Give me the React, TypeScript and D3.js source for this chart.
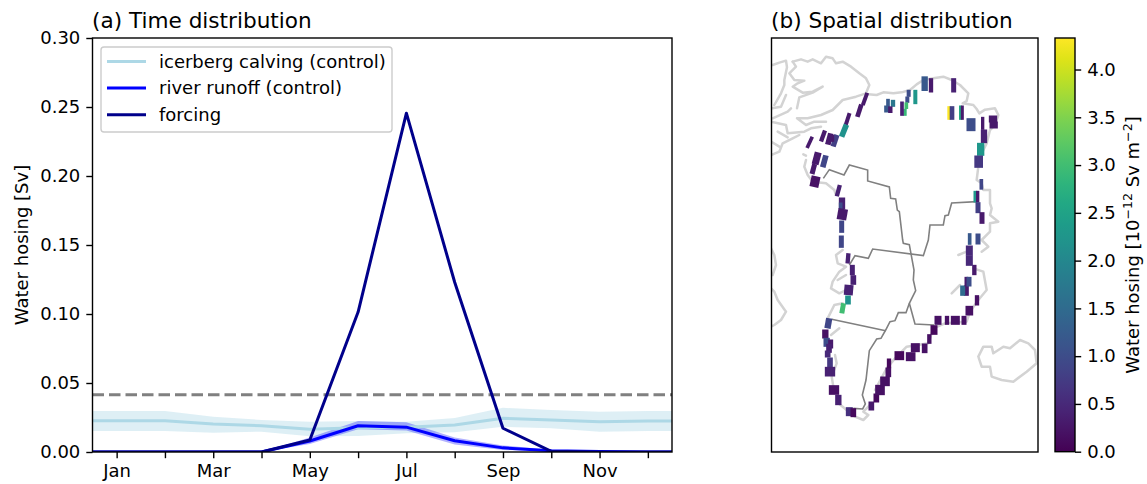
import React, { useEffect, useRef } from 'react';
import * as d3 from 'd3';

const months = ['Jan', 'Feb', 'Mar', 'Apr', 'May', 'Jun', 'Jul', 'Aug', 'Sep', 'Oct', 'Nov', 'Dec'];
const shownMonths = ['Jan', 'Mar', 'May', 'Jul', 'Sep', 'Nov'];
const yTicks = [0, 0.05, 0.1, 0.15, 0.2, 0.25, 0.3];
const cbarTicks = [0, 0.5, 1, 1.5, 2, 2.5, 3, 3.5, 4];

const calving = [0.0227, 0.0227, 0.0203, 0.019, 0.0164, 0.0175, 0.018, 0.0195, 0.0244, 0.0232, 0.022, 0.0225];
const calvingLow = [0.0152, 0.0152, 0.014, 0.0147, 0.0115, 0.0116, 0.0136, 0.0143, 0.0183, 0.0172, 0.0147, 0.0152];
const calvingHigh = [0.0297, 0.0297, 0.0256, 0.0232, 0.022, 0.0225, 0.022, 0.0246, 0.032, 0.0304, 0.0292, 0.0297];
const runoff = [0, 0, 0, 0, 0.008, 0.019, 0.018, 0.0082, 0.003, 0.0009, 0.0003, 0];
const runoffLow = [0, 0, 0, 0, 0.0058, 0.0165, 0.0155, 0.0055, 0.0015, 0.0004, 0.0001, 0];
const runoffHigh = [0, 0, 0, 0, 0.0105, 0.0225, 0.0215, 0.0105, 0.0048, 0.0014, 0.0005, 0];
const forcing = [0, 0, 0, 0, 0.0087, 0.1014, 0.2455, 0.123, 0.0172, 0.0005, 0, 0];
const threshold = 0.0415;

const legendItems = ['icerberg calving (control)', 'river runoff (control)', 'forcing'];
const legendColors = ['#add8e6', '#0000ff', '#00008b'];

// map cells: x, y, width, height, tilt, hosing
const cells: number[][] = [
  [464, 146, 16, 43, 0, 1.2], [483, 151, 10, 42, 0, 0.3], [551, 151, 12, 42, 0, 0.4],
  [436, 186, 9, 42, 0, 2.3], [416, 175, 9, 20, 0, 1.0], [412, 194, 9, 18, 0, 1.0],
  [409, 212, 8, 19, 0, 3.0], [405, 232, 7, 20, 0, 2.9], [396, 221, 8, 42, 0, 0.4],
  [369, 205, 10, 20, 0, 1.7], [354, 211, 8, 38, 0, 1.2], [350, 222, 12, 20, 0, 1.2],
  [361, 224, 10, 19, 0, 0.3], [537, 234, 7, 40, 0, 4.33], [546, 234, 11, 40, 0, 0.8],
  [571, 233, 5, 42, 0, 2.6], [577, 233, 6, 42, 0, 0.3], [603, 269, 24, 38, 0, 1.0],
  [638, 265, 7, 38, 0, 0.3], [669, 252, 22, 20, 0, 0.3], [671, 270, 22, 20, 0, 0.3],
  [642, 304, 16, 40, 0, 0.4], [632, 343, 19, 38, 0, 2.3], [626, 380, 23, 36, 0, 0.7],
  [634, 448, 8, 31, 0, 0.9], [616, 485, 8, 34, 0, 2.3], [623, 485, 7, 34, 0, 0.3],
  [624, 518, 12, 32, 0, 0.8], [636, 549, 12, 34, 0, 0.3], [599, 612, 8, 34, 0, 1.2],
  [624, 612, 12, 32, 0, 1.0],
  [285, 192, 9, 38, 20, 0.3], [268, 227, 11, 38, 18, 0.3], [233, 252, 9, 36, 18, 0.3],
  [222, 287, 14, 38, 22, 2.2], [159, 303, 10, 34, 20, 0.3], [119, 322, 8, 36, 25, 0.3],
  [178, 312, 14, 34, 15, 0.3], [195, 317, 13, 36, 18, 0.8], [186, 310, 10, 20, 0, 0.3],
  [140, 370, 18, 36, 15, 0.3], [163, 379, 14, 36, 15, 0.9], [130, 402, 12, 30, 15, 0.3],
  [135, 440, 24, 32, 12, 0.2], [205, 467, 10, 34, 15, 0.4],
  [216, 505, 16, 34, 0, 0.4], [212, 512, 8, 18, 0, 1.0], [217, 538, 26, 32, 10, 0.3],
  [215, 575, 12, 36, 0, 0.9], [214, 620, 12, 36, 0, 0.9], [234, 670, 10, 30, 5, 0.4],
  [247, 705, 12, 30, 0, 0.4], [250, 735, 14, 28, 0, 0.4], [236, 765, 24, 30, 5, 0.4],
  [234, 795, 14, 26, 0, 2.2], [218, 820, 12, 30, 10, 3.0], [175, 865, 16, 30, 10, 0.9],
  [166, 897, 16, 26, 0, 0.2], [170, 922, 16, 26, 0, 1.0], [182, 927, 12, 26, 0, 0.3],
  [177, 940, 14, 26, 0, 0.4], [173, 957, 14, 20, 0, 0.5], [180, 983, 14, 30, 0, 0.7],
  [180, 1010, 28, 28, 0, 0.4], [192, 1065, 28, 28, 0, 0.2], [205, 1095, 16, 30, 0, 0.4],
  [238, 1130, 18, 26, 0, 0.6], [250, 1133, 14, 26, 0, 0.1], [304, 1113, 14, 26, 0, 0.3],
  [319, 1089, 14, 26, 0, 0.1], [330, 1065, 26, 30, 0, 0.2], [345, 1039, 26, 28, 0, 0.2],
  [355, 1012, 14, 28, 0, 0.2], [357, 985, 10, 28, 0, 0.1], [388, 962, 26, 26, 0, 0.1],
  [422, 965, 26, 26, 0, 0.2], [436, 938, 24, 26, 0, 0.2], [464, 940, 14, 28, 0, 0.2],
  [478, 912, 10, 28, 0, 0.2], [492, 885, 18, 28, 0, 0.1], [504, 856, 18, 26, 0, 0.2],
  [531, 856, 10, 26, 0, 0.2], [556, 856, 24, 26, 0, 0.2], [582, 856, 12, 26, 0, 0.2],
  [598, 827, 20, 28, 0, 0.2], [621, 796, 10, 30, 0, 0.2], [589, 767, 12, 30, 0, 0.3],
  [578, 767, 12, 30, 0, 1.5], [589, 740, 8, 28, 0, 0.3], [597, 740, 12, 28, 0, 1.0],
  [613, 705, 10, 30, 0, 0.3], [598, 677, 18, 30, 0, 0.5], [598, 647, 18, 30, 0, 0.5],
];

const coastNorth = [
  [295, 178], [320, 180], [340, 172], [370, 175], [395, 172], [420, 165], [440, 148], [460, 135],
  [490, 130], [520, 125], [545, 135], [570, 150], [595, 175], [590, 198], [578, 205], [610, 210],
  [620, 222], [628, 235], [645, 224], [675, 220], [685, 240], [675, 270], [660, 285], [650, 325],
  [635, 355], [625, 395], [620, 435], [635, 445], [640, 465], [660, 465], [660, 505], [665, 520],
  [660, 540], [685, 560], [660, 565], [660, 590], [635, 615], [655, 635], [635, 650],
];
const coastEast = [
  [610, 700], [640, 710], [650, 765], [625, 795], [600, 830], [590, 860], [525, 865], [490, 880],
  [475, 925], [410, 935], [375, 970], [350, 1000], [315, 1065],
];
const coastSouth = [[205, 1105], [230, 1125], [255, 1145], [280, 1155], [295, 1140], [280, 1130], [305, 1105]];
const coastWest = [[195, 960], [200, 985], [185, 1025], [190, 1055]];
const coastDisko = [
  [218, 645], [198, 660], [203, 685], [228, 695], [208, 710], [188, 740], [183, 760], [208, 775], [228, 765],
];
const coastDiskoInner = [[203, 735], [228, 720]];
const coastSW = [[218, 805], [193, 810], [173, 850]];
const coastSW2 = [[208, 880], [183, 900]];
const coastThule = [[108, 375], [103, 395], [113, 420], [128, 440], [168, 445], [193, 465], [198, 480]];
const coastIslet = [[100, 358], [108, 362]];
const coastEastFjord = [[565, 660], [590, 650]];
const coastEastFjord2 = [[545, 775], [570, 750]];
const ellesmereMain = [
  [68, 80], [93, 73], [113, 80], [128, 73], [153, 85], [168, 65], [188, 70], [198, 85], [218, 80],
  [243, 95], [268, 115], [288, 130], [298, 150], [288, 175], [258, 185], [218, 195], [188, 225],
  [153, 240], [113, 250], [81, 250], [108, 270], [133, 260], [168, 260],
];
const ellesmereInlet = [
  [68, 80], [78, 95], [58, 115], [73, 135], [103, 137], [83, 145], [68, 155], [98, 173], [128, 170],
  [158, 155], [128, 173], [88, 187], [81, 220],
];
const axelHeiberg = [[8, 90], [28, 83], [48, 77], [51, 97], [43, 135], [43, 150], [33, 175], [13, 210]];
const arcticIsland1 = [[6, 220], [33, 215], [48, 180]];
const arcticIsland2 = [[8, 250], [53, 230], [63, 220]];
const devon = [[3, 260], [48, 270], [53, 295], [103, 290], [123, 280], [153, 275]];
const devon2 = [[23, 290], [53, 307]];
const jones = [[3, 360], [28, 350], [38, 325], [68, 310], [88, 300]];
const jones2 = [[3, 320], [28, 335]];
const baffinUpper = [[3, 640], [13, 660], [18, 690], [8, 720]];
const baffinLower = [[3, 760], [13, 770], [23, 795], [48, 830], [33, 855], [13, 870], [3, 875]];
const iceland = [
  [625, 965], [640, 935], [665, 935], [670, 955], [700, 935], [720, 940], [750, 915], [775, 925],
  [795, 945], [800, 985], [770, 1010], [730, 1040], [695, 1035], [665, 1025], [660, 995], [635, 995], [625, 965],
];
const coasts = [
  coastNorth, coastEast, coastSouth, coastWest, coastDisko, coastDiskoInner, coastSW, coastSW2, coastThule,
  coastIslet, coastEastFjord, coastEastFjord2, ellesmereMain, ellesmereInlet, axelHeiberg, arcticIsland1,
  arcticIsland2, devon, devon2, jones, jones2, baffinUpper, baffinLower, iceland,
];

const basinLines = [
  [[160, 430], [178, 404], [222, 420], [238, 390], [293, 405], [293, 438], [358, 456], [362, 490],
   [377, 492], [382, 525], [388, 530], [398, 615], [400, 625], [418, 629], [432, 705], [430, 735],
   [437, 767], [418, 805], [408, 833], [385, 833], [375, 857], [360, 860], [347, 885], [333, 910],
   [320, 912], [298, 947], [288, 1035], [277, 1080], [286, 1107], [278, 1122], [250, 1120]],
  [[620, 500], [545, 504], [535, 540], [525, 542], [520, 570], [480, 570], [475, 615], [460, 662],
   [308, 642], [295, 670], [255, 662], [238, 690]],
  [[185, 853], [347, 887]],
  [[418, 805], [435, 867], [492, 870]],
];

const FONT = '"DejaVu Sans", sans-serif';

function App() {
  const ref = useRef<SVGSVGElement>(null);

  useEffect(() => {
    const svg = d3.select(ref.current);
    svg.selectAll('*').remove();
    svg.style('font-family', FONT);

    // (a) time distribution
    const x = d3.scaleLinear().domain([-0.5, 11.5]).range([92.5, 672]);
    const y = d3.scaleLinear().domain([0, 0.3]).range([452, 38]);
    const a = svg.append('g');

    // series run on to both axes edges, holding the Jan and Dec value
    const xPos = [-0.5, ...months.map((m, i) => i), 11.5];
    const padded = (v: number[]) => [v[0], ...v, v[v.length - 1]];
    const band = (low: number[], high: number[]) => {
      const lo = padded(low), hi = padded(high);
      return d3.area<number>().x(d => x(d)).y0((d, i) => y(lo[i])).y1((d, i) => y(hi[i]))(xPos);
    };
    const line = (vals: number[]) => {
      const v = padded(vals);
      return d3.line<number>().x(d => x(d)).y((d, i) => y(v[i]))(xPos);
    };

    a.append('clipPath').attr('id', 'clipA').append('rect')
      .attr('x', 92.5).attr('y', 38).attr('width', 579.5).attr('height', 414);
    const plot = a.append('g').attr('clip-path', 'url(#clipA)');

    plot.append('path').attr('d', band(calvingLow, calvingHigh)).attr('fill', '#add8e6').attr('fill-opacity', 0.4);
    plot.append('path').attr('d', band(runoffLow, runoffHigh)).attr('fill', '#0000ff').attr('fill-opacity', 0.3);
    plot.append('line').attr('x1', 92.5).attr('x2', 672).attr('y1', y(threshold)).attr('y2', y(threshold))
      .attr('stroke', '#808080').attr('stroke-width', 2.8).attr('stroke-dasharray', '11.5,5');
    [calving, runoff, forcing].forEach((s, i) => {
      plot.append('path').attr('d', line(s)).attr('fill', 'none')
        .attr('stroke', legendColors[i]).attr('stroke-width', 3).attr('stroke-linejoin', 'round');
    });

    a.append('rect').attr('x', 92.5).attr('y', 38).attr('width', 579.5).attr('height', 414)
      .attr('fill', 'none').attr('stroke', '#000').attr('stroke-width', 1.4);

    const xAxis = d3.axisBottom(x)
      .tickValues(months.map((m, i) => i))
      .tickFormat((d: any) => (shownMonths.includes(months[d]) ? months[d] : ''))
      .tickSize(6.2).tickPadding(6);
    const gx = a.append('g').attr('transform', 'translate(0,452)').call(xAxis as any);
    const yAxis = d3.axisLeft(y).tickValues(yTicks).tickFormat(d3.format('.2f') as any).tickSize(6.2).tickPadding(6);
    const gy = a.append('g').attr('transform', 'translate(92.5,0)').call(yAxis as any);
    [gx, gy].forEach(g => {
      g.select('.domain').remove();
      g.selectAll('line').attr('stroke', '#000').attr('stroke-width', 1.4);
      g.selectAll('text').attr('font-size', 18).attr('font-family', FONT).attr('fill', '#000');
    });

    a.append('text').attr('x', 92).attr('y', 28).attr('font-size', 21.6).text('(a) Time distribution');
    a.append('text').attr('transform', 'translate(28,245) rotate(-90)').attr('text-anchor', 'middle')
      .attr('font-size', 18).text('Water hosing [Sv]');

    const legend = a.append('g');
    legend.append('rect').attr('x', 101).attr('y', 47).attr('width', 291).attr('height', 85).attr('rx', 3)
      .attr('fill', '#fff').attr('fill-opacity', 0.8).attr('stroke', '#ccc').attr('stroke-width', 1.4);
    legendItems.forEach((t, i) => {
      const ly = 61.5 + i * 26.6;
      legend.append('line').attr('x1', 107).attr('x2', 146).attr('y1', ly).attr('y2', ly)
        .attr('stroke', legendColors[i]).attr('stroke-width', 3);
      legend.append('text').attr('x', 159).attr('y', ly + 6.2).attr('font-size', 18).text(t);
    });

    // (b) spatial distribution
    const mx = d3.scaleLinear().domain([4.5, 804]).range([771.5, 1038]);
    const my = d3.scaleLinear().domain([9, 1251]).range([38, 452]);
    const color = d3.scaleSequential(d3.interpolateViridis).domain([0, 4.33]);
    const mapLine = d3.line<number[]>().x(d => mx(d[0])).y(d => my(d[1]));
    const b = svg.append('g');

    b.append('clipPath').attr('id', 'clipB').append('rect')
      .attr('x', 771.5).attr('y', 38).attr('width', 266.5).attr('height', 414);
    const map = b.append('g').attr('clip-path', 'url(#clipB)');

    coasts.forEach(c => {
      map.append('path').attr('d', mapLine(c)).attr('fill', 'none').attr('stroke', '#d3d3d3')
        .attr('stroke-width', 2.5).attr('stroke-linejoin', 'round').attr('stroke-linecap', 'round');
    });
    basinLines.forEach(c => {
      map.append('path').attr('d', mapLine(c)).attr('fill', 'none').attr('stroke', '#808080').attr('stroke-width', 1.6);
    });
    // cells overlap a touch, the source grid is drawn without gaps
    map.selectAll('.cell').data(cells).enter().append('rect').attr('class', 'cell')
      .attr('x', d => mx(d[0] - d[2] / 2 - 1.5)).attr('y', d => my(d[1] - d[3] / 2 - 0.5))
      .attr('width', d => mx(d[2] + 3) - mx(0)).attr('height', d => my(d[3] + 1) - my(0))
      .attr('transform', d => `rotate(${d[4]} ${mx(d[0])} ${my(d[1])})`)
      .attr('fill', d => color(d[5]));

    b.append('rect').attr('x', 771.5).attr('y', 38).attr('width', 266.5).attr('height', 414)
      .attr('fill', 'none').attr('stroke', '#000').attr('stroke-width', 1.4);
    b.append('text').attr('x', 771).attr('y', 28).attr('font-size', 21.6).text('(b) Spatial distribution');

    // colorbar
    const cy = d3.scaleLinear().domain([0, 4.33]).range([451.7, 38]);
    const defs = b.append('defs').append('linearGradient').attr('id', 'viridisBar')
      .attr('x1', 0).attr('x2', 0).attr('y1', 1).attr('y2', 0);
    d3.range(0, 1.001, 0.05).forEach(t => {
      defs.append('stop').attr('offset', t).attr('stop-color', d3.interpolateViridis(t));
    });
    b.append('rect').attr('x', 1055).attr('y', 38).attr('width', 20).attr('height', 413.7)
      .attr('fill', 'url(#viridisBar)').attr('stroke', '#000').attr('stroke-width', 1.4);
    const cAxis = d3.axisRight(cy).tickValues(cbarTicks).tickFormat(d3.format('.1f') as any).tickSize(6.2).tickPadding(6);
    const gc = b.append('g').attr('transform', 'translate(1075,0)').call(cAxis as any);
    gc.select('.domain').remove();
    gc.selectAll('line').attr('stroke', '#000').attr('stroke-width', 1.4);
    gc.selectAll('text').attr('font-size', 18).attr('font-family', FONT).attr('fill', '#000');

    const cl = b.append('text').attr('transform', 'translate(1139,245) rotate(-90)')
      .attr('text-anchor', 'middle').attr('font-size', 18);
    cl.append('tspan').text('Water hosing [10');
    cl.append('tspan').attr('font-size', 12.6).attr('dy', -7).text('\u221212');
    cl.append('tspan').attr('dy', 7).text(' Sv m');
    cl.append('tspan').attr('font-size', 12.6).attr('dy', -7).text('\u22122');
    cl.append('tspan').attr('dy', 7).text(']');
  }, []);

  return (
    <svg ref={ref} width={1147} height={484} style={{ position: 'absolute', left: 0, top: 0, background: '#fff' }} />
  );
}

export default App;
